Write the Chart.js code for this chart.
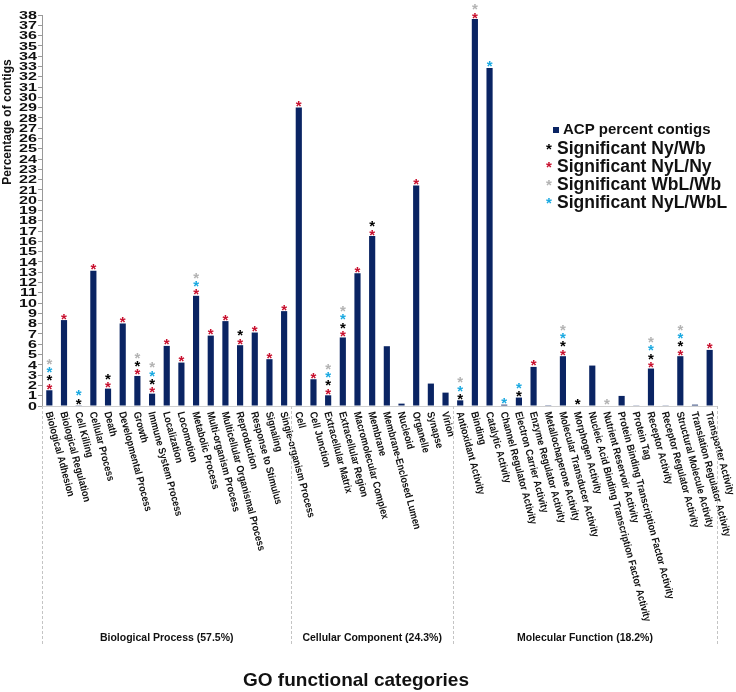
<!DOCTYPE html>
<html>
<head>
<meta charset="utf-8">
<script src="https://cdn.jsdelivr.net/npm/chart.js@4"></script>
<style>
  body { margin: 0; background: #fff; }
  #wrap { width: 736px; height: 692px; position: relative; }
</style>
</head>
<body>
<div id="wrap"><canvas id="goChart"></canvas></div>
<script>
const categories = [
  'Biological Adhesion', 'Biological Regulation', 'Cell Killing', 'Cellular Process', 'Death',
  'Developmental Process', 'Growth', 'Immune System Process', 'Localization', 'Locomotion',
  'Metabolic Process', 'Multi-organism Process', 'Multicellular Organismal Process', 'Reproduction',
  'Response to Stimulus', 'Signaling', 'Single-organism Process',
  'Cell', 'Cell Junction', 'Extracellular Matrix', 'Extracellular Region', 'Macromolecular Complex',
  'Membrane', 'Membrane-Enclosed Lumen', 'Nucleoid', 'Organelle', 'Synapse', 'Virion',
  'Antioxidant Activity', 'Binding', 'Catalytic Activity', 'Channel Regulator Activity',
  'Electron Carrier Activity', 'Enzyme Regulator Activity', 'Metallochaperone Activity',
  'Molecular Transducer Activity', 'Morphogen Activity', 'Nucleic Acid Binding Transcription Factor Activity',
  'Nutrient Reservoir Activity', 'Protein Binding Transcription Factor Activity', 'Protein Tag',
  'Receptor Activity', 'Receptor Regulator Activity', 'Structural Molecule Activity',
  'Translation Regulator Activity', 'Transporter Activity'
];

const acpPercent = [
  1.53, 8.35, 0.07, 13.15, 1.69, 8.02, 2.92, 1.2, 5.84, 4.22, 10.71, 6.84, 8.25, 5.91, 7.14, 4.55, 9.22,
  29.0, 2.6, 1.04, 6.66, 12.89, 16.52, 5.81, 0.23, 21.42, 2.18, 1.3,
  0.55, 37.6, 32.85, 0.13, 0.82, 3.8, 0.02, 4.84, 0.05, 3.93, 0.05, 0.98, 0.03, 3.64, 0.03, 4.84, 0.13, 5.45
];

const groupNames = ['Biological Process (57.5%)', 'Cellular Component (24.3%)', 'Molecular Function (18.2%)'];
const groupSizes = [17, 11, 18];

// significance markers (drawn bottom to top: NyL/Ny, Ny/Wb, NyL/WbL, WbL/Wb)
const sigNyWb = ['Biological Adhesion', 'Cell Killing', 'Death', 'Growth', 'Immune System Process',
  'Reproduction', 'Extracellular Matrix', 'Extracellular Region', 'Membrane', 'Antioxidant Activity',
  'Electron Carrier Activity', 'Molecular Transducer Activity', 'Morphogen Activity', 'Receptor Activity',
  'Structural Molecule Activity'];
const sigNyLNy = ['Biological Adhesion', 'Biological Regulation', 'Cellular Process', 'Death',
  'Developmental Process', 'Growth', 'Immune System Process', 'Localization', 'Locomotion',
  'Metabolic Process', 'Multi-organism Process', 'Multicellular Organismal Process', 'Reproduction',
  'Response to Stimulus', 'Signaling', 'Single-organism Process', 'Cell', 'Cell Junction',
  'Extracellular Matrix', 'Extracellular Region', 'Macromolecular Complex', 'Membrane', 'Organelle',
  'Binding', 'Enzyme Regulator Activity', 'Molecular Transducer Activity', 'Receptor Activity',
  'Structural Molecule Activity', 'Transporter Activity'];
const sigWbLWb = ['Biological Adhesion', 'Growth', 'Immune System Process', 'Metabolic Process',
  'Extracellular Matrix', 'Extracellular Region', 'Antioxidant Activity', 'Binding',
  'Molecular Transducer Activity', 'Nutrient Reservoir Activity', 'Receptor Activity',
  'Structural Molecule Activity'];
const sigNyLWbL = ['Biological Adhesion', 'Cell Killing', 'Immune System Process', 'Metabolic Process',
  'Extracellular Matrix', 'Extracellular Region', 'Antioxidant Activity', 'Catalytic Activity',
  'Channel Regulator Activity', 'Electron Carrier Activity', 'Molecular Transducer Activity',
  'Receptor Activity', 'Structural Molecule Activity'];

const yTicks = [];
for (let v = 0; v <= 38; v++) yTicks.push(v);

const FONT = "'Liberation Sans', Arial, sans-serif";
const NAVY = '#0a2463';
const RED = '#c8102e';
const CYAN = '#1aa9e1';
const GRAY = '#b3b3b3';

const markerStack = [
  { list: sigNyLNy, color: RED },
  { list: sigNyWb, color: '#000' },
  { list: sigNyLWbL, color: CYAN },
  { list: sigWbLWb, color: GRAY }
];

const extras = {
  id: 'extras',
  afterDatasetsDraw(chart) {
    const ctx = chart.ctx;
    const meta = chart.getDatasetMeta(0);
    ctx.save();
    ctx.font = 'bold 15px ' + FONT;
    ctx.textAlign = 'center';
    ctx.textBaseline = 'alphabetic';
    meta.data.forEach((bar, i) => {
      let level = 0;
      markerStack.forEach(m => {
        if (m.list.includes(categories[i])) {
          const cy = bar.y - 5 - level * 8.3;
          ctx.fillStyle = m.color;
          ctx.fillText('*', bar.x, cy + 8.5);
          level++;
        }
      });
    });
    ctx.restore();
  },
  afterDraw(chart) {
    const ctx = chart.ctx;
    const x = chart.scales.x;
    const y = chart.scales.y;
    const area = chart.chartArea;
    ctx.save();

    // y tick labels (wide bold digits)
    ctx.fillStyle = '#111';
    ctx.font = 'bold 11.5px ' + FONT;
    ctx.textAlign = 'right';
    ctx.textBaseline = 'middle';
    yTicks.forEach(v => {
      ctx.save();
      ctx.translate(37, y.getPixelForValue(v) + 0.5);
      ctx.scale(1.4, 1);
      ctx.fillText(String(v), 0, 0);
      ctx.restore();
    });

    // rotated category labels
    ctx.font = 'bold 9.1px ' + FONT;
    ctx.textAlign = 'left';
    categories.forEach((c, i) => {
      ctx.save();
      ctx.translate(x.getPixelForValue(i) - 1, area.bottom + 6);
      ctx.rotate(75 * Math.PI / 180);
      ctx.scale(1, 1.15);
      ctx.fillText(c, 0, 0);
      ctx.restore();
    });

    // group separators and names
    const bounds = [area.left];
    let idx = 0;
    groupSizes.forEach(n => {
      idx += n;
      bounds.push(idx >= categories.length ? area.right
        : (x.getPixelForValue(idx - 1) + x.getPixelForValue(idx)) / 2);
    });
    ctx.strokeStyle = '#c4c4c4';
    ctx.lineWidth = 1;
    ctx.setLineDash([3, 2]);
    bounds.forEach(b => {
      ctx.beginPath();
      ctx.moveTo(Math.round(b) + 0.5, area.bottom);
      ctx.lineTo(Math.round(b) + 0.5, 644);
      ctx.stroke();
    });
    ctx.setLineDash([]);
    ctx.font = 'bold 10.5px ' + FONT;
    ctx.textAlign = 'center';
    groupNames.forEach((g, k) => {
      ctx.fillText(g, (bounds[k] + bounds[k + 1]) / 2, 638);
    });

    // axis titles
    ctx.font = 'bold 19px ' + FONT;
    ctx.fillText('GO functional categories', 356, 681);
    ctx.save();
    ctx.translate(8, 122);
    ctx.rotate(-Math.PI / 2);
    ctx.font = 'bold 12px ' + FONT;
    ctx.fillText('Percentage of contigs', 0, 0);
    ctx.restore();

    // legend
    ctx.textAlign = 'left';
    ctx.fillStyle = NAVY;
    ctx.fillRect(553, 127, 6, 6);
    ctx.fillStyle = '#111';
    ctx.font = 'bold 15px ' + FONT;
    ctx.fillText('ACP percent contigs', 563, 130);
    const legendRows = [
      ['Significant Ny/Wb', '#000'],
      ['Significant NyL/Ny', RED],
      ['Significant WbL/Wb', GRAY],
      ['Significant NyL/WbL', CYAN]
    ];
    legendRows.forEach((r, k) => {
      const ly = 149 + k * 18;
      ctx.font = 'bold 15px ' + FONT;
      ctx.textAlign = 'center';
      ctx.fillStyle = r[1];
      ctx.fillText('*', 549, ly + 1);
      ctx.font = 'bold 17.5px ' + FONT;
      ctx.textAlign = 'left';
      ctx.fillStyle = '#111';
      ctx.fillText(r[0], 557, ly);
    });
    ctx.restore();
  }
};

new Chart(document.getElementById('goChart'), {
  type: 'bar',
  data: {
    labels: categories,
    datasets: [{
      label: 'ACP percent contigs',
      data: acpPercent,
      backgroundColor: NAVY,
      barPercentage: 0.42,
      categoryPercentage: 1.0
    }]
  },
  options: {
    responsive: true,
    maintainAspectRatio: false,
    animation: false,
    layout: { padding: { top: 15, right: 19, left: 0, bottom: 0 } },
    plugins: {
      legend: { display: false },
      tooltip: { enabled: false }
    },
    scales: {
      x: {
        ticks: { display: false },
        grid: { display: false },
        border: { color: '#cfcfcf', dash: [2, 2] },
        afterFit(scale) { scale.height = 286; }
      },
      y: {
        min: 0,
        max: 38,
        afterBuildTicks(scale) { scale.ticks = yTicks.map(v => ({ value: v })); },
        ticks: { display: false },
        grid: { drawOnChartArea: false, tickLength: 4, color: '#999' },
        border: { color: '#999' },
        afterFit(scale) { scale.width = 42; }
      }
    }
  },
  plugins: [extras]
});
</script>
</body>
</html>
